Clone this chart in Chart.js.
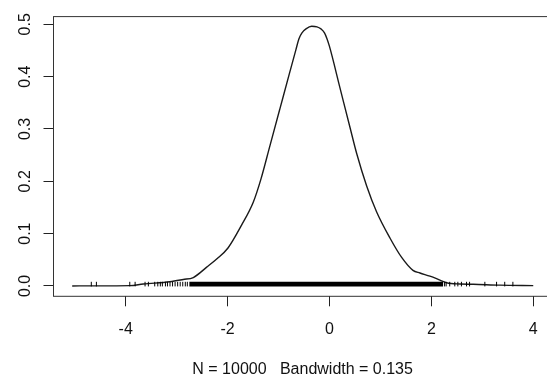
<!DOCTYPE html>
<html><head><meta charset="utf-8">
<script src="https://cdn.jsdelivr.net/npm/chart.js@4.4.0/dist/chart.umd.min.js"></script>
<style>
html,body{margin:0;padding:0;background:#fff;overflow:hidden;width:547px;height:384px}
#wrap{position:relative;width:560px;height:384px}
</style>
</head><body>
<div id="wrap"><canvas id="c" width="560" height="384"></canvas></div>
<script>
// Density estimate
const densityX = [-5.05, -4.64, -3.92, -3.655, -3.135, -2.87, -2.673, -2.41, -2.214, -1.992, -1.723, -1.496, -1.344, -1.168, -0.972, -0.775, -0.657, -0.599, -0.540, -0.461, -0.349, -0.245, -0.167, -0.098, -0.049, 0.0, 0.206, 0.402, 0.534, 0.730, 0.926, 1.187, 1.417, 1.639, 1.776, 1.972, 2.168, 2.30, 2.561, 2.822, 3.346, 4.0];
const densityY = [0.0, 0.0002, 0.0006, 0.0037, 0.0080, 0.0124, 0.0161, 0.0359, 0.0515, 0.0726, 0.1167, 0.16, 0.2047, 0.2683, 0.339, 0.410, 0.4522, 0.4726, 0.4838, 0.4913, 0.4963, 0.4953, 0.4913, 0.4838, 0.4726, 0.4578, 0.3787, 0.3033, 0.2531, 0.1911, 0.1414, 0.0917, 0.0545, 0.0298, 0.0247, 0.0186, 0.0112, 0.0061, 0.0037, 0.0032, 0.0015, 0.0006];
// Rug: individually visible ticks in the tails, and the solid dense stretch
const rugTailX = [-4.675, -4.575, -3.92, -3.815, -3.62, -3.555, -3.43, -3.37, -3.32, -3.28, -3.22, -3.18, -3.13, -3.08, -3.03, -2.98, -2.93, -2.88, -2.83, -2.79, 2.26, 2.29, 2.36, 2.46, 2.52, 2.59, 2.69, 2.75, 3.05, 3.28, 3.44, 3.60];
const rugDenseX = [-2.75, 2.23];
const rugLevel = 0.0035;
const xTicks = [-4, -2, 0, 2, 4];
const yTicks = [0, 0.1, 0.2, 0.3, 0.4, 0.5];
const xLimits = [-5.417, 4.362];
const yLimits = [-0.0198, 0.5148];
const xLabel = 'N = 10000   Bandwidth = 0.135';

const FONT = "'Liberation Sans', Arial, Helvetica, sans-serif";

const framePlugin = {
  id: 'frame',
  afterDraw(chart) {
    const a = chart.chartArea, ctx = chart.ctx;
    ctx.save();
    ctx.strokeStyle = '#333';
    ctx.lineWidth = 1;
    ctx.strokeRect(a.left, a.top, a.right - a.left, a.bottom - a.top);
    ctx.restore();
  }
};

new Chart(document.getElementById('c'), {
  type: 'scatter',
  data: {
    datasets: [
      {
        type: 'line',
        data: densityX.map((x, i) => ({x, y: densityY[i]})),
        borderColor: '#1a1a1a',
        borderWidth: 1.4,
        pointRadius: 0,
        cubicInterpolationMode: 'monotone',
        fill: false,
        order: 2
      },
      {
        type: 'line',
        data: rugDenseX.map(x => ({x, y: rugLevel})),
        borderColor: '#000',
        borderWidth: 4.6,
        borderCapStyle: 'butt',
        pointRadius: 0,
        fill: false,
        order: 1
      },
      {
        type: 'scatter',
        data: rugTailX.map(x => ({x, y: rugLevel})),
        pointStyle: 'line',
        rotation: 90,
        radius: 2.3,
        borderWidth: 1,
        borderColor: '#000',
        backgroundColor: '#000',
        order: 0
      }
    ]
  },
  options: {
    responsive: false,
    animation: false,
    devicePixelRatio: 1,
    layout: { padding: { top: 9.5, right: 8.3, bottom: 0, left: 0 } },
    plugins: { legend: { display: false }, tooltip: { enabled: false } },
    scales: {
      x: {
        type: 'linear',
        min: xLimits[0], max: xLimits[1],
        afterBuildTicks(s) { s.ticks = xTicks.map(v => ({value: v})); },
        afterFit(s) { s.height = 87.7; },
        border: { display: false },
        grid: { display: true, drawOnChartArea: false, drawTicks: true, tickLength: 10, color: '#222', lineWidth: 1 },
        ticks: { color: '#111', font: { family: FONT, size: 16 }, padding: 14, maxRotation: 0, autoSkip: false,
                 callback: v => String(v) },
        title: { display: true, text: xLabel, color: '#111', font: { family: FONT, size: 16 }, padding: { top: 5, bottom: 5 } }
      },
      y: {
        type: 'linear',
        min: yLimits[0], max: yLimits[1],
        afterBuildTicks(s) { s.ticks = yTicks.map(v => ({value: v})); },
        afterFit(s) { s.width = 53.5; },
        border: { display: false },
        grid: { display: true, drawOnChartArea: false, drawTicks: true, tickLength: 10, color: '#222', lineWidth: 1 },
        ticks: { color: '#111', font: { family: FONT, size: 16 }, padding: 7, minRotation: 90, maxRotation: 90,
                 crossAlign: 'center', autoSkip: false, callback: v => v.toFixed(1) }
      }
    }
  },
  plugins: [framePlugin]
});
</script>
</body></html>
